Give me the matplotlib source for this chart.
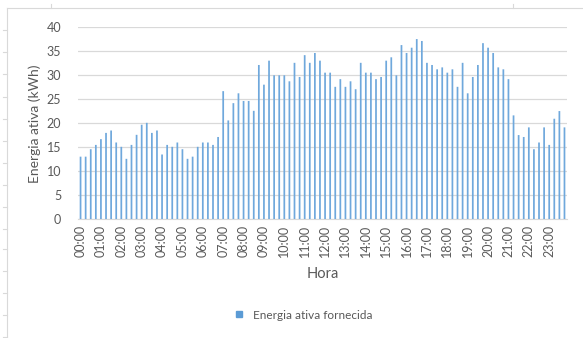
import matplotlib.pyplot as plt
from matplotlib.lines import Line2D

plt.rcParams['font.family'] = ['Lato', 'DejaVu Sans']

# energia ativa fornecida a cada 15 minutos (kWh)
energia = [
    13.05, 13.05, 14.6, 15.5, 16.7, 18.0, 18.5, 16.0,
    15.1, 12.6, 15.5, 17.6, 19.7, 20.1, 18.0, 18.5,
    13.5, 15.5, 15.1, 16.0, 14.6, 12.6, 13.05, 15.1,
    16.0, 16.0, 15.5, 17.15, 26.7, 20.6, 24.2, 26.25,
    24.65, 24.65, 22.6, 32.15, 28.05, 33.05, 30.0, 30.0,
    30.0, 28.75, 32.6, 29.65, 34.2, 32.6, 34.65, 33.05,
    30.55, 30.55, 27.6, 29.2, 27.6, 28.75, 27.1, 32.6,
    30.55, 30.55, 29.2, 29.65, 33.05, 33.75, 30.0, 36.3,
    34.65, 35.75, 37.55, 37.15, 32.6, 32.15, 31.25, 31.65,
    30.55, 31.25, 27.6, 32.6, 26.25, 29.65, 32.15, 36.7,
    35.75, 34.65, 31.65, 31.25, 29.2, 21.65, 17.55, 17.15,
    19.15, 14.6, 16.0, 19.15, 15.5, 20.95, 22.55, 19.15,
]
horas = [f"{h:02d}:00" for h in range(24)]

cinza = '#595959'
fig = plt.figure(figsize=(5.83, 3.38), dpi=100)

# linhas da folha de cálculo por trás do gráfico
bg = fig.add_axes([0, 0, 1, 1], zorder=-1)
bg.set_xlim(0, 583)
bg.set_ylim(338, 0)
bg.axis('off')
bg.add_line(Line2D([7, 7], [8, 338], color='#d9d9d9', lw=0.8))
bg.add_line(Line2D([7, 583], [8, 8], color='#d9d9d9', lw=0.8))
for yy in [30, 52, 74, 97, 119, 141, 163, 185, 207, 229, 249, 271, 293, 315, 337]:
    bg.add_line(Line2D([3, 7], [yy, yy], color='#d9d9d9', lw=0.8))
for xx in [51, 513]:
    bg.add_line(Line2D([xx, xx], [4, 8], color='#d9d9d9', lw=0.8))

ax = fig.add_axes([0.1338, 0.3512, 0.8388, 0.568])
x = list(range(len(energia)))
bars = ax.bar(x, energia, width=0.34, color='#6fa8dc', linewidth=0,
              label='Energia ativa fornecida', zorder=3)
for b in bars:
    b.set_snap(False)

ax.set_xlim(-0.5, len(energia) - 0.5)
ax.set_ylim(0, 40)
ax.set_yticks(range(0, 41, 5))
ax.set_xticks(range(0, len(energia), 4))
ax.set_xticklabels(horas, rotation=90, fontsize=9, color=cinza)
ax.tick_params(axis='y', labelsize=9, labelcolor=cinza, length=0, pad=12)
ax.tick_params(axis='x', length=0, pad=4)
ax.grid(axis='y', color='#d9d9d9', lw=0.9, zorder=0)
for s in ['top', 'right', 'left']:
    ax.spines[s].set_visible(False)
ax.spines['bottom'].set_color('#d9d9d9')

ax.set_ylabel('Energia ativa (kWh)', fontsize=10, color=cinza, labelpad=4)
ax.set_xlabel('Hora', fontsize=10.5, color=cinza, labelpad=7)

fig.legend(handles=[Line2D([], [], marker='s', ls='', color='#5b9bd5', markersize=5)],
           labels=['Energia ativa fornecida'], loc='center', bbox_to_anchor=(0.515, 0.068),
           frameon=False, fontsize=8.5, labelcolor=cinza, handletextpad=0.2)

fig.savefig('out.png', dpi=100)
